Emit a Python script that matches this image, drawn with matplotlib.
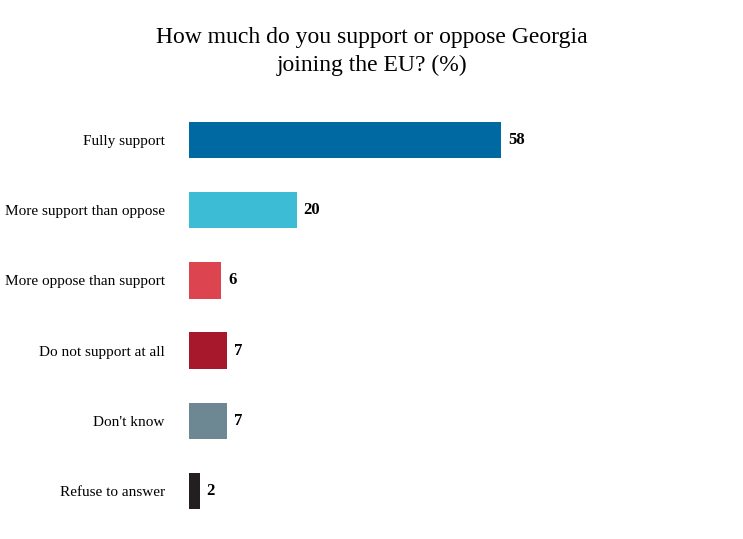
import matplotlib
matplotlib.use("Agg")
import matplotlib.pyplot as plt

categories = ["Fully support", "More support than oppose", "More oppose than support",
              "Do not support at all", "Don't know", "Refuse to answer"]
values = [58, 20, 6, 7, 7, 2]
colors = ["#0069a2", "#3dbdd5", "#dc4550", "#a8182d", "#6d8793", "#231f20"]

fig = plt.figure(figsize=(7.43, 5.39), dpi=100)
ax = fig.add_axes([189/743, 13/539, (743-189)/743, 421/539])
y = list(range(len(categories)))
ax.barh(y, values, height=0.52, color=colors)
ax.set_xlim(0, 103)
ax.set_ylim(len(categories) - 0.5, -0.5)
ax.set_yticks(y)
ax.set_yticklabels(categories, fontfamily="Liberation Serif", fontsize=11)
ax.tick_params(left=False, bottom=False, labelbottom=False, pad=14)
for s in ax.spines.values():
    s.set_visible(False)
for yi, v in zip(y, values):
    ax.text(v + 1.3, yi, str(v), va="center", ha="left", fontfamily="Liberation Serif",
            fontweight="bold", fontsize=12)
fig.text(0.5, 0.905, "How much do you support or oppose Georgia\njoining the EU? (%)",
         ha="center", va="center", fontfamily="Liberation Serif", fontsize=17, linespacing=1.4)
fig.savefig("out.png", dpi=100)
